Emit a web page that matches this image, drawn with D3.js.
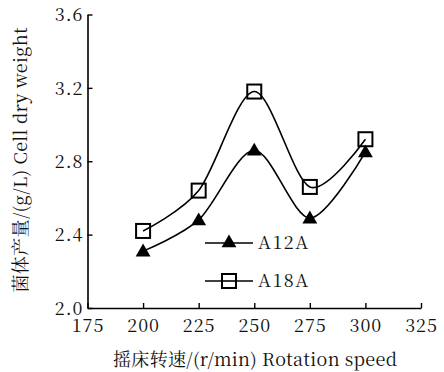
<!DOCTYPE html>
<html>
<head>
<meta charset="utf-8">
<script src="https://cdnjs.cloudflare.com/ajax/libs/d3/7.8.5/d3.min.js"></script>
<style>
  body { margin: 0; background: #fff; }
  text { font-family: "Noto Serif CJK SC", "Liberation Serif", serif; fill: #111; }
</style>
</head>
<body>
<div id="chart"></div>
<script>
// rotation speeds (r/min)
const speeds = [200, 225, 250, 275, 300];
// cell dry weight (g/L)
const a12a = [2.31, 2.48, 2.86, 2.49, 2.85];
const a18a = [2.42, 2.64, 3.18, 2.66, 2.92];
const xTicks = [175, 200, 225, 250, 275, 300, 325];
const yTicks = [2.0, 2.4, 2.8, 3.2, 3.6];

const width = 444, height = 372;
const svg = d3.select("#chart").append("svg")
    .attr("width", width).attr("height", height);

const x = d3.scaleLinear().domain([175, 325]).range([87.5, 421]);
const y = d3.scaleLinear().domain([2.0, 3.6]).range([308, 14.5]);

// axes (ticks point inward)
const xAxis = svg.append("g").attr("transform", `translate(0,${y(2.0)})`)
    .call(d3.axisBottom(x).tickValues(xTicks).tickSizeInner(-5).tickSizeOuter(0).tickPadding(11));
const yAxis = svg.append("g").attr("transform", `translate(${x(175)},0)`)
    .call(d3.axisLeft(y).tickValues(yTicks).tickSizeInner(-5).tickSizeOuter(0).tickPadding(4).tickFormat(d3.format(".1f")));

[xAxis, yAxis].forEach(a => {
    a.select(".domain").attr("stroke", "#000").attr("stroke-width", 1.6);
    a.selectAll(".tick line").attr("stroke", "#000").attr("stroke-width", 1.4);
    a.selectAll(".tick text")
        .style("font-family", "Noto Serif CJK SC")
        .style("font-size", "18px")
        .style("letter-spacing", "1px")
        .style("fill", "#111");
});
xAxis.selectAll(".tick text").attr("dy", "0.72em");
yAxis.selectAll(".tick text").attr("dy", "0.35em");

// curves
const line = d3.line().curve(d3.curveCardinal.tension(0.1))
    .x((d, i) => x(speeds[i])).y(d => y(d));

[a12a, a18a].forEach(s => {
    svg.append("path").datum(s).attr("d", line)
        .attr("fill", "none").attr("stroke", "#000").attr("stroke-width", 1.6);
});

const tri = d3.symbol().type(d3.symbolTriangle).size(95);

svg.append("g").selectAll("path").data(a12a).join("path")
    .attr("d", tri)
    .attr("transform", (d, i) => `translate(${x(speeds[i])},${y(d) + 1})`)
    .attr("fill", "#000");

svg.append("g").selectAll("rect").data(a18a).join("rect")
    .attr("x", (d, i) => x(speeds[i]) - 7)
    .attr("y", d => y(d) - 7)
    .attr("width", 14).attr("height", 14)
    .attr("fill", "none").attr("stroke", "#000").attr("stroke-width", 2);

// legend
const legend = svg.append("g");
const rows = [{name: "A12A", ly: 243}, {name: "A18A", ly: 281}];
rows.forEach((r, i) => {
    legend.append("line").attr("x1", 205).attr("x2", 253).attr("y1", r.ly).attr("y2", r.ly)
        .attr("stroke", "#000").attr("stroke-width", 1.6);
    if (i === 0) {
        legend.append("path").attr("d", tri).attr("transform", `translate(229,${r.ly})`).attr("fill", "#000");
    } else {
        legend.append("rect").attr("x", 222).attr("y", r.ly - 7).attr("width", 14).attr("height", 14)
            .attr("fill", "#fff").attr("stroke", "#000").attr("stroke-width", 2);
        legend.append("line").attr("x1", 222).attr("x2", 236).attr("y1", r.ly).attr("y2", r.ly)
            .attr("stroke", "#000").attr("stroke-width", 1.6);
    }
    legend.append("text").attr("x", 258).attr("y", r.ly + 6)
        .style("font-size", "18px").style("letter-spacing", "1.5px").text(r.name);
});

// axis titles
svg.append("text").attr("x", 255).attr("y", 366).attr("text-anchor", "middle")
    .style("font-size", "18px")
    .attr("textLength", 284).attr("lengthAdjust", "spacing")
    .text("摇床转速/(r/min)  Rotation speed");

svg.append("text").attr("transform", "translate(27,160) rotate(-90)").attr("text-anchor", "middle")
    .style("font-size", "18px")
    .attr("textLength", 265).attr("lengthAdjust", "spacing")
    .text("菌体产量/(g/L)  Cell dry weight");
</script>
</body>
</html>
